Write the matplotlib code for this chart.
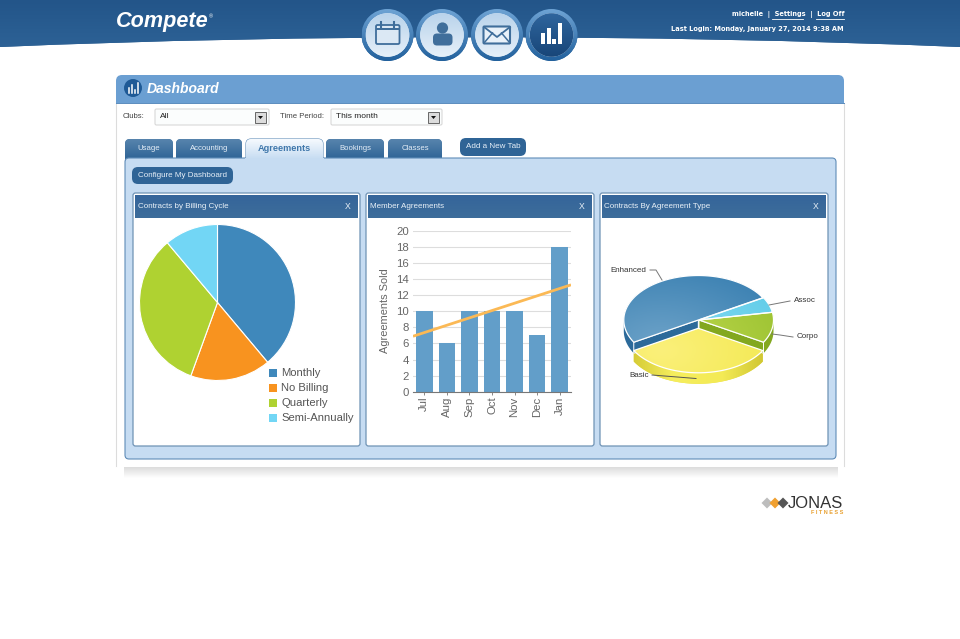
import numpy as np
import matplotlib
matplotlib.use("Agg")
import matplotlib.pyplot as plt
from matplotlib.patches import FancyBboxPatch, Rectangle, Circle, Polygon, PathPatch
from matplotlib.path import Path
from matplotlib.colors import LinearSegmentedColormap

plt.rcParams['font.family'] = ['Liberation Sans', 'DejaVu Sans']

# ---------- data ----------
billing_labels = ['Monthly', 'No Billing', 'Quarterly', 'Semi-Annually']
billing_values = [7, 3, 6, 2]
billing_colors = ['#3f88bb', '#f8931f', '#afd231', '#72d6f5']

months = ['Jul', 'Aug', 'Sep', 'Oct', 'Nov', 'Dec', 'Jan']
sold = [10, 6, 10, 10, 10, 7, 18]
trend_x = [-0.5, 6.5]
trend_y = [6.9, 13.3]

type_labels = ['Enhanced', 'Basic', 'Corpo', 'Assoc']
type_values = [9, 6, 2, 1]
tabs = ['Usage', 'Accounting', 'Agreements', 'Bookings', 'Classes']

W, H = 960, 639
fig = plt.figure(figsize=(W / 100, H / 100), dpi=100, facecolor='white')
bg = fig.add_axes([0, 0, 1, 1])
bg.set_xlim(0, W); bg.set_ylim(H, 0); bg.axis('off')


def px_axes(x0, y0, x1, y1, **kw):
    return fig.add_axes([x0 / W, 1 - y1 / H, (x1 - x0) / W, (y1 - y0) / H], **kw)


def rrect(ax, x0, y0, x1, y1, r, fc, ec='none', lw=0, z=1):
    p = FancyBboxPatch((x0, y0), x1 - x0, y1 - y0, boxstyle=f'round,pad=0,rounding_size={r}',
                       fc=fc, ec=ec, lw=lw, zorder=z)
    ax.add_patch(p)
    return p


def vgrad(ax, x0, y0, x1, y1, c_top, c_bot, clip=None, z=1):
    cm = LinearSegmentedColormap.from_list('g', [c_top, c_bot])
    im = ax.imshow(np.linspace(0, 1, 64)[:, None], extent=(x0, x1, y1, y0), cmap=cm,
                   aspect='auto', zorder=z, origin='upper', vmin=0, vmax=1)
    if clip is not None:
        im.set_clip_path(clip)
    ax.set_xlim(0, W); ax.set_ylim(H, 0)
    return im


def T(x, y, s, size=6, color='#333333', ha='left', weight='normal', style='normal', family=None, z=6, **kw):
    return bg.text(x, y, s, fontsize=size, color=color, ha=ha, va='center', weight=weight,
                   style=style, family=family or ['Liberation Sans', 'DejaVu Sans'], zorder=z, **kw)


# ---------- banner ----------
verts = [(0, 0), (960, 0), (960, 47), (650, 34), (300, 34), (0, 47), (0, 0)]
codes = [Path.MOVETO, Path.LINETO, Path.LINETO, Path.CURVE4, Path.CURVE4, Path.CURVE4, Path.CLOSEPOLY]
ban = PathPatch(Path(verts, codes), fc='#27598c', ec='none', zorder=1)
bg.add_patch(ban)
vgrad(bg, 0, 0, 960, 48, '#235589', '#2d6296', clip=ban, z=1)
T(115.5, 22, 'Compete', size=15.6, color='white', weight='bold', style='italic')
T(208.5, 16.5, '®', size=4, color='white')
uiF = ['DejaVu Sans']
T(844, 15, 'michelle  |  Settings  |  Log Off', size=4.75, color='white', ha='right', weight='bold', family=uiF)
T(844, 29, 'Last Login: Monday, January 27, 2014 9:38 AM', size=4.75, color='white', ha='right', weight='bold', family=uiF)
bg.plot([772, 803], [19, 19], color='white', lw=0.6, zorder=6)
bg.plot([816, 844], [19, 19], color='white', lw=0.6, zorder=6)

# round nav icons
cx = [387.5, 442, 497, 551.5]
for i, c in enumerate(cx):
    ring = Circle((c, 35), 26, fc='#2a639b', ec='none', zorder=3)
    bg.add_patch(ring)
    vgrad(bg, c - 26, 9, c + 26, 61, '#6ea3d4', '#22619d', clip=ring, z=3)
    inner = Circle((c, 35), 21.8, fc='#dbe9f6', ec='none', zorder=4)
    bg.add_patch(inner)
    if i < 3:
        vgrad(bg, c - 22, 13, c + 22, 57, '#b9d3eb', '#e6f0f9', clip=inner, z=4)
    else:
        vgrad(bg, c - 22, 13, c + 22, 57, '#2f659d', '#184679', clip=inner, z=4)
ic = '#3f6e9b'
# calendar
rrect(bg, 376, 25, 399.5, 44, 1.5, '#dbe8f4', ec=ic, lw=1.3, z=5)
bg.add_patch(Rectangle((376, 27.5), 23.5, 2.6, fc=ic, ec='none', zorder=5))
for xx in (381, 394):
    bg.plot([xx, xx], [22, 28], color=ic, lw=1.5, zorder=5)
# person
bg.add_patch(Circle((442.5, 28), 5.6, fc=ic, ec='none', zorder=5))
rrect(bg, 433, 33.5, 452.5, 45.5, 4, ic, z=5)
# envelope
rrect(bg, 483.5, 26.5, 510, 43.5, 1, '#e8f1f9', ec=ic, lw=1.5, z=5)
bg.plot([484, 497, 510], [27, 37, 27], color=ic, lw=1.3, zorder=5)
bg.plot([484, 492.5], [43, 33], color=ic, lw=1.1, zorder=5)
bg.plot([510, 501.5], [43, 33], color=ic, lw=1.1, zorder=5)
# bars nav
for xx, top in ((541.3, 33), (546.7, 28), (552.3, 39), (557.8, 23)):
    bg.add_patch(Rectangle((xx, top), 4.1, 43.5 - top, fc='white', ec='none', zorder=5))

# ---------- main panel ----------
vgrad(bg, 124, 467, 838, 478, '#dcdcdc', '#ffffff', z=0.5)
bg.add_patch(Rectangle((116, 95), 728, 372, fc='white', ec='none', zorder=1))
bg.plot([116.3, 116.3], [103, 466], color='#dcdcdc', lw=0.8, zorder=1.1)
bg.plot([844, 844], [103, 466], color='#dcdcdc', lw=0.8, zorder=1.1)
rrect(bg, 116, 75, 844, 100, 6, '#6b9fd2', z=1.5)
bg.add_patch(Rectangle((116, 88), 728, 15, fc='#6b9fd2', ec='none', zorder=1.7))
bg.plot([116, 844], [103, 103], color='#5a8cbd', lw=0.7, zorder=1.8)
bg.add_patch(Circle((133, 88), 9, fc='#1f5a96', ec='none', zorder=3))
for xx, top in ((129, 88), (132, 85), (135, 90), (138, 83)):
    bg.plot([xx, xx], [top, 93], color='white', lw=1.1, zorder=4)
T(147, 89, 'Dashboard', size=10, color='white', weight='bold', style='italic')

# filters
T(123, 117, 'Clubs:', size=5.6, color='#444444')
T(280, 117, 'Time Period:', size=5.6, color='#444444')
for x0, x1, s in ((155, 269, 'All'), (331, 442, 'This month')):
    rrect(bg, x0, 109, x1, 125, 1.5, '#fbfdfd', ec='#d8d8d8', lw=0.8, z=2)
    T(x0 + 5, 117, s, size=6, color='#222222')
    bg.add_patch(Rectangle((x1 - 14, 111.5), 11, 11, fc='#dcdcdc', ec='#666666', lw=0.7, zorder=3))
    bg.add_patch(Polygon([(x1 - 11, 116), (x1 - 6, 116), (x1 - 8.5, 119)], fc='#111111', ec='none', zorder=4))

# tabs
spans = [(125, 173), (176, 242), (246, 323), (326, 384), (388, 442)]
for lab, (x0, x1) in zip(tabs, spans):
    if lab == 'Agreements':
        continue
    p = rrect(bg, x0, 139, x1, 170, 5, '#3f6f9f', z=2)
    vgrad(bg, x0, 139, x1, 159, '#5784ad', '#2f6496', clip=p, z=2)
    T((x0 + x1) / 2, 148.5, lab, size=5.6, color='#e6eff8', ha='center', z=4)
rrect(bg, 460, 138, 526, 156, 6, '#2f6496', z=2)
T(493, 147, 'Add a New Tab', size=5.8, color='#e6eff8', ha='center')

rrect(bg, 125, 158, 836, 459, 4, '#c6dcf2', ec='#5f8cb8', lw=0.8, z=2.5)
tab_on = rrect(bg, 246, 139, 323, 172, 5, '#e6f0fa', ec='#5f8cb8', lw=0.8, z=2.6)
vgrad(bg, 246, 139, 323, 159, '#f6fafe', '#c6dcf2', clip=tab_on, z=2.65)
bg.add_patch(Rectangle((245, 158.2), 79, 16, fc='#c6dcf2', ec='none', zorder=2.7))
T(284.5, 148.5, 'Agreements', size=6.6, color='#3f77ab', ha='center', weight='bold', z=4)

rrect(bg, 132, 167, 233, 184, 6, '#2f6496', z=3)
T(182.5, 175.5, 'Configure My Dashboard', size=5.8, color='#e6eff8', ha='center')

# cards
cards = [(133, 360, 'Contracts by Billing Cycle'), (366, 594, 'Member Agreements'),
         (600, 828, 'Contracts By Agreement Type')]
for x0, x1, title in cards:
    rrect(bg, x0, 193, x1, 446, 2.5, 'white', ec='#6f93b5', lw=0.9, z=3)
    vgrad(bg, x0 + 2, 195, x1 - 2, 218, '#35659a', '#3d6d9b', z=3.2)
    T(x0 + 4.5, 206.5, title, size=5.8, color='#e9f1f8')
    T(x1 - 12, 206.5, 'X', size=6.2, color='#e9f1f8', ha='center')

# ---------- chart 1: flat pie ----------
a1 = px_axes(139.5, 224.5, 295.5, 380.5)
a1.patch.set_alpha(0)
a1.pie(billing_values, startangle=90, counterclock=False, colors=billing_colors,
       wedgeprops=dict(edgecolor='white', linewidth=0.8))
a1.set_xlim(-1, 1); a1.set_ylim(-1, 1)
for wedge in a1.patches:
    wedge.set_clip_on(False)
for i, (lab, col) in enumerate(zip(billing_labels, billing_colors)):
    y = 373 + 15 * i
    bg.add_patch(Rectangle((268.5, y - 4.2), 8.4, 8.4, fc=col, ec='none', zorder=5))
    T(281, y, lab, size=8.1, color='#555555')

# ---------- chart 2: bars with trend ----------
a2 = px_axes(413, 231, 571, 391.7)
a2.patch.set_alpha(0)
xs = np.arange(len(months))
a2.bar(xs, sold, width=0.73, color='#629ec9', zorder=2)
a2.plot(trend_x, trend_y, color='#fbb955', lw=2, zorder=3, solid_capstyle='butt')
a2.set_xlim(-0.5, 6.5); a2.set_ylim(0, 20)
a2.set_yticks(range(0, 21, 2))
a2.set_xticks(xs); a2.set_xticklabels(months, rotation=90)
a2.grid(axis='y', color='#dddddd', lw=0.8, zorder=1); a2.set_axisbelow(True)
for s in ('top', 'right', 'left'):
    a2.spines[s].set_visible(False)
a2.spines['bottom'].set_color('#777777')
a2.tick_params(axis='y', length=0, labelsize=8.2, labelcolor='#666666', pad=3)
a2.tick_params(axis='x', length=2.5, width=0.7, color='#888888', labelsize=8.2, labelcolor='#666666', pad=1)
bg.text(384.5, 311, 'Agreements Sold', rotation=90, fontsize=7.9, color='#666666', ha='center', va='center', zorder=6)

# ---------- chart 3: exploded 3D pie ----------
a3 = px_axes(600, 218, 828, 446)
a3.patch.set_alpha(0)
a3.set_xlim(600, 828); a3.set_ylim(446, 218); a3.axis('off')

A, B, DEPTH = 74.5, 44.5, 11
CENTER = {'Enhanced': (698.3, 320), 'Basic': (698.3, 328.3), 'Corpo': (699, 320), 'Assoc': (699, 320)}
FACE = {'Enhanced': ('#6ca2c8', '#3d82b3'), 'Basic': ('#fbf07a', '#f2e84e'),
        'Corpo': ('#c0d84e', '#9cc332'), 'Assoc': ('#8adcf3', '#62cde9')}
SIDE = {'Enhanced': '#2c6a9a', 'Basic': '#e9e04a', 'Corpo': '#83a81f', 'Assoc': '#3f9fc0'}


def arc(c, t0, t1, dy=0, n=80):
    t = np.radians(np.linspace(t0, t1, n))
    return np.c_[c[0] + A * np.cos(t), c[1] + dy - B * np.sin(t)]


# start at 30 deg on the ellipse, going counter-clockwise on screen
start = 30.0
sweeps = [v / sum(type_values) * 360 for v in type_values]
slices = []
for lab, sw in zip(type_labels, sweeps):
    slices.append((lab, start, start + sw))
    start += sw

order = ['Enhanced', 'Assoc', 'Corpo', 'Basic']
by = {s[0]: s for s in slices}
for lab in order:
    _, t0, t1 = by[lab]
    c = CENTER[lab]
    # outer wall: only the part of the rim facing the viewer
    w0, w1 = max(t0, 180), min(t1, 360)
    if w0 < w1:
        top = arc(c, w0, w1)
        bot = arc(c, w0, w1, DEPTH)[::-1]
        wall = Polygon(np.r_[top, bot], fc=SIDE[lab], ec='none', zorder=2)
        a3.add_patch(wall)
        if lab == 'Basic':
            cmw = LinearSegmentedColormap.from_list('w', ['#cfc52e', '#f6ee5e', '#f3ea55', '#c9bf2c'])
            imw = a3.imshow(np.linspace(0, 1, 64)[None, :], extent=(c[0] - A, c[0] + A, c[1] + B + DEPTH, c[1]),
                            cmap=cmw, aspect='auto', zorder=2)
            imw.set_clip_path(wall)
    # cut faces
    for t in (t0, t1):
        e = arc(c, t, t, n=1)[0]
        if (lab == 'Enhanced' and t == t1) or (lab == 'Corpo' and t == t0):
            a3.add_patch(Polygon([c, e, (e[0], e[1] + DEPTH), (c[0], c[1] + DEPTH)],
                                 fc=SIDE[lab], ec='white', lw=0.7, zorder=3))
    # top face with gradient
    pts = np.r_[[c], arc(c, t0, t1)]
    outline = Polygon(pts, fc=FACE[lab][1], ec='none', zorder=4)
    a3.add_patch(outline)
    cm = LinearSegmentedColormap.from_list('f', [FACE[lab][0], FACE[lab][1]])
    yy, xx = np.mgrid[0:1:64j, 0:1:64j]
    grad = np.clip(np.hypot(xx - 0.25, yy - 0.75) / 0.9, 0, 1)
    im = a3.imshow(grad, extent=(c[0] - A, c[0] + A, c[1] + B, c[1] - B), cmap=cm, aspect='auto', zorder=4)
    im.set_clip_path(outline)
    a3.add_patch(Polygon(pts, fc='none', ec='white', lw=0.9, zorder=5))
a3.set_xlim(600, 828); a3.set_ylim(446, 218)

lead = '#777777'
a3.plot([650, 656, 662], [270, 270, 280], color=lead, lw=0.7, zorder=6)
a3.plot([769, 790], [305, 301], color=lead, lw=0.7, zorder=6)
a3.plot([772, 780, 793], [334, 335, 337], color=lead, lw=0.7, zorder=6)
a3.plot([652, 696], [375, 378.5], color='#555555', lw=0.7, zorder=6)
T(610, 270.5, 'Enhanced', size=5.8, color='#333333', z=8)
T(793.5, 301, 'Assoc', size=5.8, color='#333333', z=8)
T(796.5, 336, 'Corpo', size=5.8, color='#333333', z=8)
T(629.5, 375.5, 'Basic', size=5.8, color='#333333', z=8)

# ---------- Jonas logo ----------
for xc, col in ((767, '#bdbdbd'), (775, '#f0a030'), (783, '#555555')):
    bg.add_patch(Polygon([(xc - 5.5, 503), (xc, 497.5), (xc + 5.5, 503), (xc, 508.5)], fc=col, ec='none', zorder=3))
T(787.5, 503.5, 'JONAS', size=12, color='#333333')
T(843, 513, 'F I T N E S S', size=4, color='#e8a030', ha='right', weight='bold')

bg.set_xlim(0, W); bg.set_ylim(H, 0)
fig.savefig('out.png', dpi=100, facecolor='white')
